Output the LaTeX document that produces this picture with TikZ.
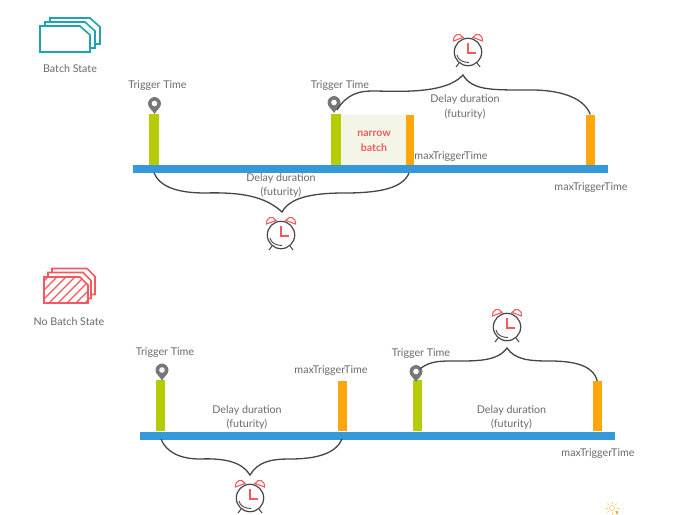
\documentclass[tikz,border=0pt]{standalone}
\usepackage{fontspec}
\setmainfont{Lato}
\usetikzlibrary{positioning}

\definecolor{barblue}{HTML}{3498DB}
\definecolor{bargreen}{HTML}{B5CC06}
\definecolor{barorange}{HTML}{FFA60D}
\definecolor{softred}{HTML}{F4595F}
\definecolor{teal}{HTML}{1FA3AE}
\definecolor{labelgray}{HTML}{6A6A6A}
\definecolor{pingray}{HTML}{777777}
\definecolor{inkgray}{HTML}{454545}
\definecolor{narrowfill}{HTML}{F3F6E6}

\tikzset{
  timeline/.style={fill=barblue, minimum width=475pt, minimum height=8pt, inner sep=0pt},
  greenbar/.style={fill=bargreen, minimum width=9.5pt, minimum height=51pt, inner sep=0pt},
  orangebar/.style={fill=barorange, minimum width=8.5pt, minimum height=50pt, inner sep=0pt},
  lbl/.style={text=labelgray, font=\fontsize{10.7}{14.5}\selectfont, align=center, inner sep=0pt},
  curly/.style={draw=inkgray, line width=1.3pt},
  pin/.pic={
    \fill[pingray] (0,0) .. controls (-2,-4) and (-6.5,-6) .. (-6.5,-10.5)
      .. controls (-6.5,-14) and (-3,-17) .. (0,-17)
      .. controls (3,-17) and (6.5,-14) .. (6.5,-10.5)
      .. controls (6.5,-6) and (2,-4) .. (0,0) -- cycle;
    \fill[white] (0,-10.5) circle (2.8pt);
  },
  clock/.pic={
    \draw[inkgray, line width=1.2pt] (0,0) circle (13.7pt);
    \draw[inkgray, line width=0.9pt] (-11,3) .. controls (-10,8) and (-5,10.5) .. (1,10.5);
    \draw[inkgray, line width=1pt] (-9,11) -- (-12,15) (9,11) -- (12,15);
    \draw[softred, line width=1.1pt] (-14.5,-11) .. controls (-15,-18) and (-8,-20) .. (-5,-14.5) -- cycle;
    \draw[softred, line width=1.1pt] (14.5,-11) .. controls (15,-18) and (8,-20) .. (5,-14.5) -- cycle;
    \draw[softred, line width=1.3pt] (0,-9.5) -- (0,1) -- (7.5,1);
  },
  sheet/.pic={
    \draw[teal, line width=1.6pt, fill=white] (0,0) -- (40,0) -- (50,9) -- (50,26) -- (0,26) -- cycle;
  },
  redsheet/.pic={
    \draw[softred, line width=1.6pt, fill=white] (0,0) -- (35,0) -- (43,8) -- (43,26) -- (0,26) -- cycle;
  },
  hatchsheet/.pic={
    \draw[softred, line width=1.6pt, fill=white] (0,0) -- (36,0) -- (44,8) -- (44,26) -- (0,26) -- cycle;
    \begin{scope}
      \clip (0,0) -- (36,0) -- (44,8) -- (44,26) -- (0,26) -- cycle;
      \foreach \d in {4,13,...,68}
        \draw[softred, line width=1.2pt] (\d,0) -- (\d-26,26);
    \end{scope}
  },
}

\begin{document}
\begin{tikzpicture}[x=1pt, y=-1pt]
  \useasboundingbox (0,0) rectangle (674,514);

  % batch state
  \pic at (50,18) {sheet};
  \pic at (45,22) {sheet};
  \pic at (40,26) {sheet};
  \node[lbl] (batchlabel) at (70,69) {Batch State};

  \node[timeline] (line1) at (370.5,169) {};
  \node[greenbar] (g1) [above right=0pt and 16pt of line1.north west] {};
  \node[greenbar] (g2) [above right=0pt and 198pt of line1.north west] {};
  \node[orangebar] (o1) [above right=0pt and 272pt of line1.north west] {};
  \node[orangebar] (o2) [above right=0pt and 453pt of line1.north west] {};
  \node[fill=narrowfill, minimum width=65pt, minimum height=50pt, inner sep=0pt]
        (narrow) [right=0pt of g2.south east, anchor=south west] {};
  \node[text=softred, font=\fontsize{10.5}{15}\bfseries\selectfont, align=center, inner sep=0pt]
        (narrowlabel) at (374,141.5) {narrow\\batch};

  \pic at (154.5,114) {pin};
  \pic at (334,113) {pin};
  \node[lbl] (tt1) at (157.5,85.5) {Trigger Time};
  \node[lbl] (tt2) at (340,85.5) {Trigger Time};
  \node[lbl] (mt1) at (451,156.5) {maxTriggerTime};
  \node[lbl] (mt2) at (591,187.5) {maxTriggerTime};
  \node[lbl] (dd1) at (465,107) {Delay duration\\(futurity)};
  \node[lbl] (dd2) at (281,185.5) {Delay duration\\(futurity)};

  \pic at (468,52) {clock};
  \pic at (281,235) {clock};
  \coordinate (tip1) at (463,75);
  \coordinate (tip2) at (282,212);
  \coordinate (s1) at (154,173);
  \coordinate (s2) at (409,173);
  \coordinate (s3) at (337,110);
  \draw[curly] (s3) .. controls (346,95) and (358,91) .. (372,91)
    .. controls (395,91) and (445,95) .. (tip1)
    .. controls (472,90) and (490,90) .. (525,90)
    .. controls (565,89) and (585,100) .. (o2.north);
  \draw[curly] (s1) .. controls (160,187) and (178,193) .. (205,193)
    .. controls (240,192) and (265,196) .. (tip2)
    .. controls (290,198) and (310,193) .. (345,193)
    .. controls (380,193) and (403,188) .. (s2);

  % no batch state
  \pic at (52,268.5) {redsheet};
  \pic at (48,272.5) {redsheet};
  \pic at (44,277) {hatchsheet};
  \node[lbl] (nobatchlabel) at (69,321.5) {No Batch State};

  \node[timeline] (line2) at (377.5,435.5) {};
  \node[greenbar] (g3) [above right=0pt and 15.5pt of line2.north west] {};
  \node[orangebar] (o3) [above right=0pt and 198pt of line2.north west] {};
  \node[greenbar] (g4) [above right=0pt and 272.5pt of line2.north west] {};
  \node[orangebar] (o4) [above right=0pt and 453pt of line2.north west] {};

  \pic at (162,380.5) {pin};
  \pic at (416,382) {pin};
  \node[lbl] (tt3) at (165,352.5) {Trigger Time};
  \node[lbl] (tt4) at (421,353.5) {Trigger Time};
  \node[lbl] (mt3) at (331,370.5) {maxTriggerTime};
  \node[lbl] (mt4) at (598,453.5) {maxTriggerTime};
  \node[lbl] (dd3) at (247,417.5) {Delay duration\\(futurity)};
  \node[lbl] (dd4) at (511.5,417.5) {Delay duration\\(futurity)};

  \pic at (507,327) {clock};
  \pic at (250,498) {clock};
  \coordinate (tip3) at (507,348);
  \coordinate (tip4) at (250,475);
  \coordinate (s4) at (161,439);
  \coordinate (s5) at (342,439);
  \coordinate (s6) at (420,369);
  \draw[curly] (s6) .. controls (428,362) and (438,361) .. (450,361)
    .. controls (475,361) and (497,362) .. (tip3)
    .. controls (515,360) and (530,361) .. (550,361)
    .. controls (580,361) and (594,368) .. (o4.north);
  \draw[curly] (s4) .. controls (166,452) and (180,459) .. (200,459)
    .. controls (225,458) and (242,462) .. (tip4)
    .. controls (258,462) and (270,459) .. (290,459)
    .. controls (318,459) and (336,453) .. (s5);

  % lightbulb in the corner
  \draw[barorange!60, line width=0.7pt] (612,508) circle (2.6pt);
  \fill[barorange] (616,511) rectangle (618,514);
  \foreach \a in {0,45,...,315}
    \draw[barorange!60, line width=0.6pt] (612,508) ++(\a:4.5) -- ++(\a:2);
\end{tikzpicture}
\end{document}
